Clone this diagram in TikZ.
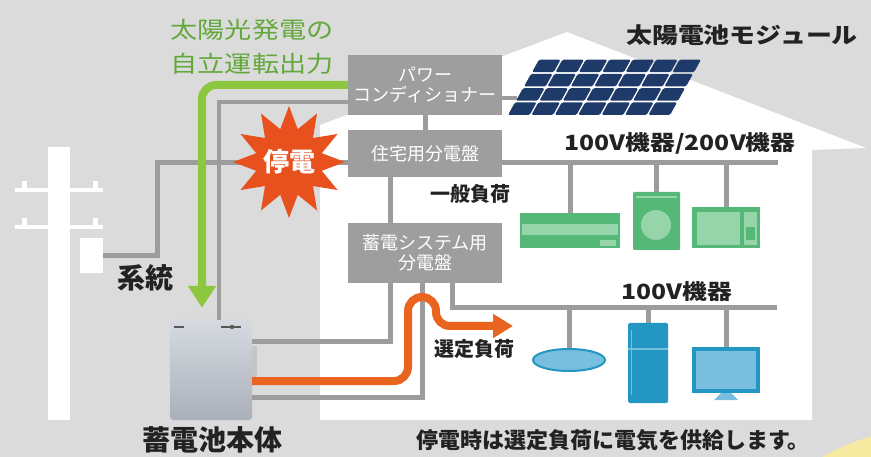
\documentclass[tikz,border=0pt]{standalone}
\usepackage{fontspec}
\newfontfamily\jp{Noto Sans CJK JP}
\newfontfamily\jpw[FakeStretch=1.18]{Noto Sans CJK JP}
\usetikzlibrary{shapes.geometric,arrows.meta}
\definecolor{bggray}{RGB}{219,219,219}
\definecolor{boxgray}{RGB}{158,158,158}
\definecolor{wiregray}{RGB}{156,156,156}
\definecolor{txtdark}{RGB}{34,34,34}
\definecolor{pvgreen}{RGB}{141,198,63}
\definecolor{pvtext}{RGB}{98,168,58}
\definecolor{flow}{RGB}{233,100,30}
\definecolor{burst}{RGB}{232,80,30}
\definecolor{cellblue}{RGB}{30,58,105}
\definecolor{appgreen}{RGB}{86,184,118}
\definecolor{applight}{RGB}{150,212,170}
\definecolor{bluedark}{RGB}{35,150,195}
\definecolor{bluelight}{RGB}{120,190,222}
\definecolor{battop}{RGB}{214,218,224}
\definecolor{batbot}{RGB}{170,176,186}
\definecolor{glow}{RGB}{246,234,160}
\pgfdeclarelayer{bg}
\pgfdeclarelayer{wires}
\pgfsetlayers{bg,wires,main}
\begin{document}
\begin{tikzpicture}[x=1pt,y=-1pt,line join=round,
  wire/.style={draw=wiregray,line width=5pt},
  board/.style={fill=boxgray,text=white,minimum width=154pt,align=center,inner sep=0pt,font=\jp\fontsize{18}{20}\selectfont},
  lbl/.style={text=txtdark,inner sep=0pt,font=\jp\bfseries\fontsize{#1}{#1}\selectfont},
  wlbl/.style={text=txtdark,inner sep=0pt,font=\jpw\bfseries\fontsize{#1}{#1}\selectfont},
  device/.style={inner sep=0pt,minimum width=#1}]
\useasboundingbox (0,0) rectangle (871,457);

\begin{pgfonlayer}{bg}
  \fill[bggray] (0,0) rectangle (871,457);
  \begin{scope}
    \clip (0,0) rectangle (871,457);
    \fill[glow] (927,639) circle[radius=210];
  \end{scope}
  \fill[white] (320,420) -- (320,125) -- (567,32) -- (866,148) -- (812,150) -- (812,420) -- cycle;
  % pole
  \fill[white] (48,147) rectangle (70,420);
  \foreach \y in {188,225}{
    \fill[white] (15,\y) rectangle (103,\y+4);
    \fill[white] (22,\y-7) rectangle (27,\y);
    \fill[white] (93,\y-7) rectangle (98,\y);
  }
\end{pgfonlayer}

\node[fill=white,minimum width=23pt,minimum height=35pt,inner sep=0] (meter) at (91.5,255.5) {};

\node[board,minimum height=60pt] (pcs) at (425,85) {パワー\\コンディショナー};
\node[board,minimum height=47pt] (dist) at (425,153.5) {住宅用分電盤};
\node[board,minimum height=60pt] (bdist) at (425,253) {蓄電システム用\\分電盤};

\coordinate (tap) at (157,163);
\coordinate (busend) at (778,163);
\coordinate (bus2end) at (777,308);
\coordinate (panelin) at (517,98);

% solar cells
\foreach \i in {0,...,6}
  \foreach \j in {0,...,3}{
    \pgfmathsetmacro{\cx}{508+23.4*\i+8*\j}
    \pgfmathsetmacro{\cy}{115-14.25*\j}
    \fill[cellblue,rounded corners=1.5pt] (\cx,\cy) -- ++(21.6,0) -- ++(7,-12.6) -- ++(-21.6,0) -- cycle;
  }

% 100V/200V devices
\node[device=100pt,fill=appgreen,minimum height=35pt] (aircon) at (570,230.5) {};
\fill[applight] (522,224) rectangle (618,235);
\fill[applight] (600,240) rectangle (616,246);
\node[device=47pt,fill=appgreen,minimum height=58pt,rounded corners=1pt] (washer) at (656.5,221) {};
\fill[applight] (636,196) rectangle (677,198);
\fill[applight] (656,225) circle[radius=15];
\node[device=68pt,fill=appgreen,minimum height=41pt] (oven) at (726,227.5) {};
\fill[applight] (697,212) rectangle (740,245);
\fill[applight] (744,212) rectangle (757,245);
\fill[appgreen] (746,227) rectangle (755,240);

% 100V devices
\node[device=72pt,ellipse,fill=bluelight,draw=bluedark,line width=2pt,minimum height=22pt] (lamp) at (569,360) {};
\node[device=40pt,fill=bluedark,minimum height=80pt,rounded corners=1.5pt] (fridge) at (648,363) {};
\fill[bluelight] (628,348.5) rectangle (668,350.5);
\fill[bluelight] (630.5,330) rectangle (632,395);
\node[device=68pt,fill=bluedark,minimum height=46pt] (tv) at (726,370) {};
\fill[bluelight] (696,351) rectangle (756,389);
\fill[bluelight] (721,393) -- (731,393) -- (738,400) -- (714,400) -- cycle;

% battery unit
\fill[boxgray!60!white] (250,346) rectangle (257,380);
\node[device=82pt,minimum height=100pt,rounded corners=3pt,top color=battop,bottom color=batbot] (batt) at (211,370) {};
\draw[gray!70!black,line width=1.3pt] (174,327) -- (184,327) (221,327) -- (241,327);
\fill[gray!70!black] (232,327) circle[radius=2.2];

\begin{pgfonlayer}{wires}
  \draw[wire] (meter.east) -| (tap) -- (dist.west |- tap);
  \draw[wire] (dist.east |- tap) -- (busend);
  \foreach \dev in {aircon,washer,oven}
    \draw[wire] (\dev.north |- tap) -- (\dev.north);
  \draw[wire] (pcs) -- (dist);
  \draw[wire,line width=4pt] ([yshift=-13pt]pcs.east) -- (panelin);
  \draw[wire] ([xshift=-35pt]dist.south) |- ([yshift=28pt]batt.east);
  \draw[wire] ([xshift=-3pt]bdist.south) |- ([yshift=-27pt]batt.east);
  \draw[wire] ([xshift=27pt]bdist.south) |- (bus2end);
  \foreach \dev in {lamp,fridge,tv}
    \draw[wire] (\dev.north |- bus2end) -- (\dev.north);
  \draw[wire,line width=4pt] ([yshift=-17pt]pcs.west) -| ([xshift=8pt]batt.north);
\end{pgfonlayer}

\draw[pvgreen,line width=8pt,rounded corners=14pt,-{Triangle[length=22pt,width=27pt]}]
  (pcs.west) -| ([xshift=-9pt,yshift=12pt]batt.north);
\draw[flow,line width=8pt,rounded corners=14pt,-{Triangle[length=20pt,width=23pt]}]
  ([yshift=-11pt]batt.east) -- (408,381) -- (408,297) -- (436,297) -- (436,326) -- (513,326);

\node[star,star points=12,star point ratio=1.65,fill=burst,minimum size=112pt,inner sep=0] (outage) at (289,162) {};
\node[text=white,inner sep=0,font=\jp\bfseries\fontsize{26}{26}\selectfont] (outagelbl) at (outage) {停電};

\node[text=pvtext,align=center,inner sep=0,font=\jpw\fontsize{23}{34}\selectfont] (pvlbl) at (252,47) {太陽光発電の\\自立運転出力};
\node[wlbl=22] (modlbl) at (742,35) {太陽電池モジュール};
\node[wlbl=21] (lbl200) at (680,143) {100V機器/200V機器};
\node[wlbl=21] (lbl100) at (677,292) {100V機器};
\node[lbl=20] (genload) at (470,194) {一般負荷};
\node[lbl=20] (selload) at (474,349) {選定負荷};
\node[lbl=28] (grid) at (145,278) {系統};
\node[lbl=28] (battlbl) at (212,440) {蓄電池本体};
\node[lbl=22] (note) at (613,440) {停電時は選定負荷に電気を供給します。};
\end{tikzpicture}
\end{document}
